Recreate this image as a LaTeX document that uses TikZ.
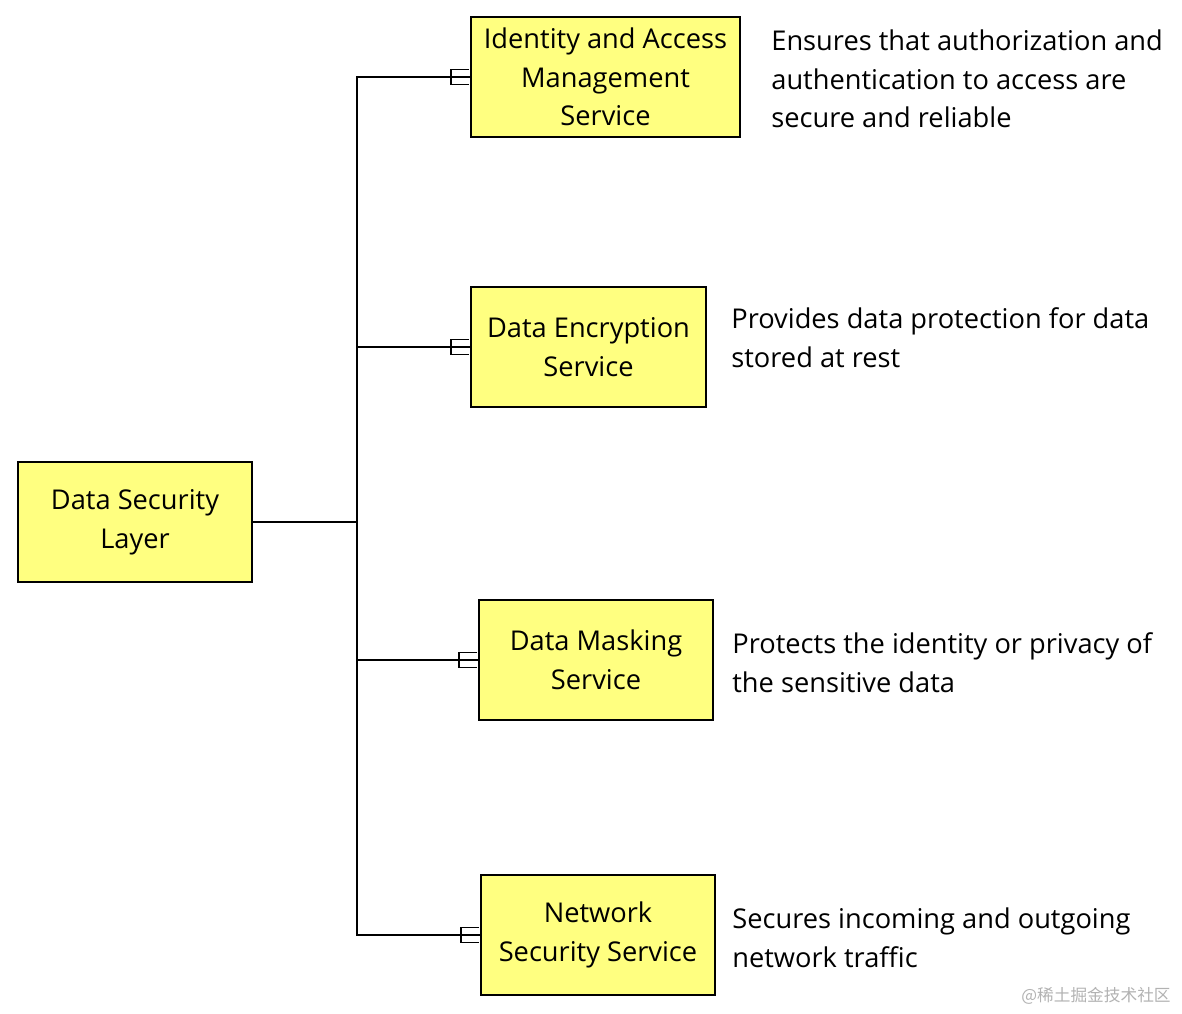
\documentclass[tikz,border=0pt]{standalone}
\usepackage{fontspec}
\setmainfont{Open Sans}
\newfontfamily\cjkfont{Noto Sans CJK SC}
\usetikzlibrary{positioning}
\definecolor{boxyellow}{RGB}{255,255,128}
\newcommand{\forkend}[1]{%
	\draw ([xshift=-0.02cm,yshift=0.15cm]#1.west) -- ++(-0.36,0) -- ++(0,-0.30) -- ++(0.36,0);}
\begin{document}
\begin{tikzpicture}[
		svc/.style={draw, line width=1.1pt, fill=boxyellow, minimum height=2.4cm, align=center, inner sep=2pt, font=\fontsize{15.5}{22}\selectfont},
		desc/.style={anchor=west, align=left, inner sep=0pt, font=\fontsize{15.5}{22}\selectfont},
		link/.style={line width=1.1pt}
	]

		\useasboundingbox (0,0) rectangle (23.64,-20.26);

		\node[svc, minimum width=4.68cm] (layer) at (2.70,-10.44) {Data Security\\Layer};
		\node[svc, minimum width=5.38cm] (iam) at (12.11,-1.54) {Identity and Access\\Management\\Service};
		\node[svc, minimum width=4.70cm] (enc) at (11.77,-6.94) {Data Encryption\\Service};
		\node[svc, minimum width=4.68cm] (mask) at (11.92,-13.20) {Data Masking\\Service};
		\node[svc, minimum width=4.68cm] (net) at (11.96,-18.70) {Network\\Security Service};

		\node[desc] (iamtxt) at (15.42,-1.58) {Ensures that authorization and\\authentication to access are\\secure and reliable};
		\node[desc] (enctxt) at (14.62,-6.75) {Provides data protection for data\\stored at rest};
		\node[desc] (masktxt) at (14.64,-13.25) {Protects the identity or privacy of\\the sensitive data};
		\node[desc] (nettxt) at (14.64,-18.75) {Secures incoming and outgoing\\network traffic};

		\coordinate (trunk) at (7.14,0);

		\draw[link] (layer.east) -- (layer.east -| trunk);
		\draw[link] (iam.west) -- (iam.west -| trunk) -- (net.west -| trunk) -- (net.west);
		\draw[link] (enc.west) -- (enc.west -| trunk);
		\draw[link] (mask.west) -- (mask.west -| trunk);

		\begin{scope}[link]
			\forkend{iam}
			\forkend{enc}
			\forkend{mask}
			\forkend{net}
		\end{scope}

		\node[text=black!30, font=\cjkfont\fontsize{9.5}{11}\selectfont] (mark) at (21.92,-19.92) {@稀土掘金技术社区};

	\end{tikzpicture}
\end{document}
